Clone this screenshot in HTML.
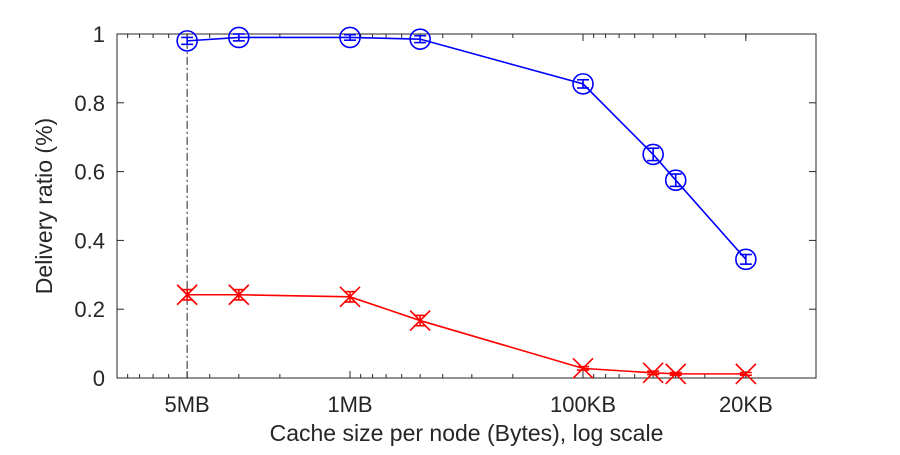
<!DOCTYPE html>
<html><head><meta charset="utf-8"><style>
body{margin:0;background:#fff;}
svg text{font-family:"Liberation Sans",Helvetica,Arial,sans-serif;fill:#262626;}
</style></head><body>
<svg id="chart" width="900" height="450" viewBox="0 0 900 450" xmlns="http://www.w3.org/2000/svg">
<g id="g"></g>
</svg>
<script>
const cacheSizesKB = [5000, 3000, 1000, 500, 100, 50, 40, 20];
const blueValues = [0.98, 0.99, 0.99, 0.985, 0.855, 0.65, 0.575, 0.345];
const blueErr = [0.01, 0.01, 0.008, 0.01, 0.012, 0.018, 0.018, 0.014];
const redValues = [0.242, 0.242, 0.236, 0.167, 0.028, 0.015, 0.012, 0.012];
const redErr = [0.015, 0.015, 0.015, 0.015, 0.005, 0.005, 0.004, 0.004];
const xTickValues = [5000, 1000, 100, 20];
const xTickLabels = ['5MB', '1MB', '100KB', '20KB'];
const yTickValues = [0, 0.2, 0.4, 0.6, 0.8, 1];
const yTickLabels = ['0', '0.2', '0.4', '0.6', '0.8', '1'];

const L=117,R=816,T=34,B=378;
const xMax=10000,xMin=10;
function xs(v){return L+(Math.log10(xMax)-Math.log10(v))/(Math.log10(xMax)-Math.log10(xMin))*(R-L);}
function ys(v){return B-v*(B-T);}
const NS='http://www.w3.org/2000/svg';
const g=document.getElementById('g');
function el(tag,attrs,parent){const e=document.createElementNS(NS,tag);for(const k in attrs)e.setAttribute(k,attrs[k]);(parent||g).appendChild(e);return e;}

const box=el('rect',{x:L,y:T,width:R-L,height:B-T,fill:'none',stroke:'#262626','stroke-width':1});



for(let d=1;d<=4;d++){for(let m=1;m<10;m++){const v=m*Math.pow(10,d);if(v<xMin||v>xMax)continue;const x=xs(v);const len=(m===1)?7:4;
el('line',{x1:x,y1:B,x2:x,y2:B-len,stroke:'#262626','stroke-width':1});
el('line',{x1:x,y1:T,x2:x,y2:T+len,stroke:'#262626','stroke-width':1});}}
xTickValues.forEach((v,i)=>{const x=xs(v);
el('line',{x1:x,y1:B,x2:x,y2:B-7,stroke:'#262626'});el('line',{x1:x,y1:T,x2:x,y2:T+7,stroke:'#262626'});
const t=el('text',{x:x,y:B+34,'text-anchor':'middle','font-size':22});t.textContent=xTickLabels[i];

});
yTickValues.forEach((v,i)=>{const y=ys(v);
el('line',{x1:L,y1:y,x2:L+7,y2:y,stroke:'#262626'});el('line',{x1:R,y1:y,x2:R-7,y2:y,stroke:'#262626'});
const t=el('text',{x:L-12,y:y+8,'text-anchor':'end','font-size':22});t.textContent=yTickLabels[i];

});

const xt=el('text',{x:(L+R)/2,y:441,'text-anchor':'middle','font-size':23});xt.textContent='Cache size per node (Bytes), log scale';


const yt=el('text',{x:0,y:0,'text-anchor':'middle','font-size':23,transform:`translate(52,${(T+B)/2}) rotate(-90)`});yt.textContent='Delivery ratio (%)';



const ref=el('line',{x1:xs(5000),y1:ys(blueValues[0]),x2:xs(5000),y2:B,stroke:'#262626','stroke-width':1,'stroke-dasharray':'8 3 2 3'});



function series(vals,errs,color,marker,name){
const pts=cacheSizesKB.map((c,i)=>xs(c)+','+ys(vals[i])).join(' ');
const pl=el('polyline',{points:pts,fill:'none',stroke:color,'stroke-width':1.6});


cacheSizesKB.forEach((c,i)=>{const x=xs(c),y=ys(vals[i]),e=errs[i];
const gg=el('g',{});


const y1=ys(vals[i]+e),y2=ys(vals[i]-e);
el('line',{x1:x,y1:y1,x2:x,y2:y2,stroke:color,'stroke-width':1.6},gg);
el('line',{x1:x-6,y1:y1,x2:x+6,y2:y1,stroke:color,'stroke-width':1.6},gg);
el('line',{x1:x-6,y1:y2,x2:x+6,y2:y2,stroke:color,'stroke-width':1.6},gg);
if(marker==='o'){el('circle',{cx:x,cy:y,r:10,fill:'none',stroke:color,'stroke-width':1.6},gg);}
else{el('line',{x1:x-10,y1:y-10,x2:x+10,y2:y+10,stroke:color,'stroke-width':1.6},gg);el('line',{x1:x-10,y1:y+10,x2:x+10,y2:y-10,stroke:color,'stroke-width':1.6},gg);}
});}
series(blueValues,blueErr,'#0000ff','o','blue-series');
series(redValues,redErr,'#ff0000','x','red-series');
</script>
</body></html>
